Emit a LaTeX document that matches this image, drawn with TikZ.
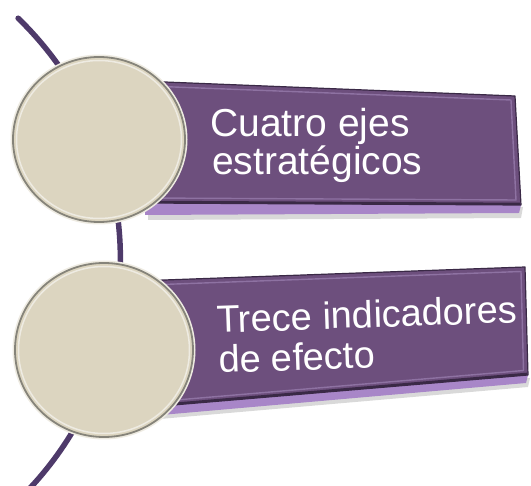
\documentclass[tikz,border=0pt]{standalone}
\usepackage{fontspec}
\setmainfont{Liberation Sans}
\usetikzlibrary{shapes.geometric}
\definecolor{spine}{HTML}{4E3A6A}
\definecolor{face}{HTML}{6D4F7D}
\definecolor{faceedge}{HTML}{3A2946}
\definecolor{facelight}{HTML}{8E72A2}
\definecolor{side}{HTML}{A886C8}
\definecolor{beige}{HTML}{DCD5C0}
\definecolor{rim}{HTML}{86847A}
\definecolor{rimlight}{HTML}{EEEBE2}
\begin{document}
\begin{tikzpicture}[x=1pt,y=-1pt,
  spineline/.style={draw=spine,line width=5.5pt,line cap=round},
  facefill/.style={fill=face,draw=faceedge,line width=1.2pt,line join=round},
  sideband/.style={fill=side},
  dropshadow/.style={fill=black,opacity=0.15},
  bevel/.style={draw=facelight,line width=1.4pt,line join=round},
  disc/.style={ellipse,fill=beige,draw=rim,line width=1.8pt,inner sep=0pt,
    preaction={draw=rimlight,line width=5pt}},
  txt/.style={text=white,inner sep=0pt,anchor=base west}]
\useasboundingbox (0,0) rectangle (531,486);
\clip (0,0) rectangle (531,486);

% spine
\draw[spineline] plot[domain=-46:46,samples=90] ({-214.6+335*cos(\x)},{259.2+335*sin(\x)});

% box 1
\coordinate (a1) at (145,81.2);
\coordinate (a2) at (515,96);
\coordinate (a3) at (521,205);
\coordinate (a4) at (145,203);
\fill[dropshadow] (148,207) -- (523,207) -- (521,218) -- (148,220) -- cycle;
\fill[sideband] (a4) -- (a3) -- (519,213) -- (145,215) -- cycle;
\path[facefill] (a1) -- (a2) -- (a3) -- (a4) -- cycle;
\draw[bevel] (148,86) -- (511,100) -- (516,200) -- (148,198) -- cycle;
\draw[faceedge,line width=2.2pt] (145,201.8) -- (520,203.8);

% box 2
\coordinate (b1) at (145,280.7);
\coordinate (b2) at (525,267);
\coordinate (b3) at (528,375);
\coordinate (b4) at (145,407.4);
\fill[dropshadow] (148,410) -- (530,378) -- (528,387) -- (148,420) -- cycle;
\fill[sideband] (b4) -- (b3) -- (526,383) -- (145,416.4) -- cycle;
\path[facefill] (b1) -- (b2) -- (b3) -- (b4) -- cycle;
\draw[bevel] (148,285) -- (521,271.5) -- (523.5,370.5) -- (148,402.4) -- cycle;
\draw[faceedge,line width=2.2pt] (145,406.2) -- (527,373.8);

% texts
\node[txt,font=\fontsize{39}{39}\selectfont] (t1a) at (210,137) {Cuatro ejes};
\node[txt,font=\fontsize{39}{39}\selectfont] (t1b) at (212,175) {estratégicos};
\node[txt,rotate=2,font=\fontsize{38}{38}\selectfont] (t2a) at (217,333) {Trece indicadores};
\node[txt,rotate=2,font=\fontsize{38}{38}\selectfont] (t2b) at (219,373) {de efecto};

% circles
\node[disc,minimum width=172pt,minimum height=165pt] (c1) at (99,139.5) {};
\draw[rimlight,line width=1.5pt] (c1.center) ellipse [x radius=82.5,y radius=79];
\node[disc,minimum width=178pt,minimum height=174pt] (c2) at (104,350) {};
\draw[rimlight,line width=1.5pt] (c2.center) ellipse [x radius=85.5,y radius=83.5];
\end{tikzpicture}
\end{document}
